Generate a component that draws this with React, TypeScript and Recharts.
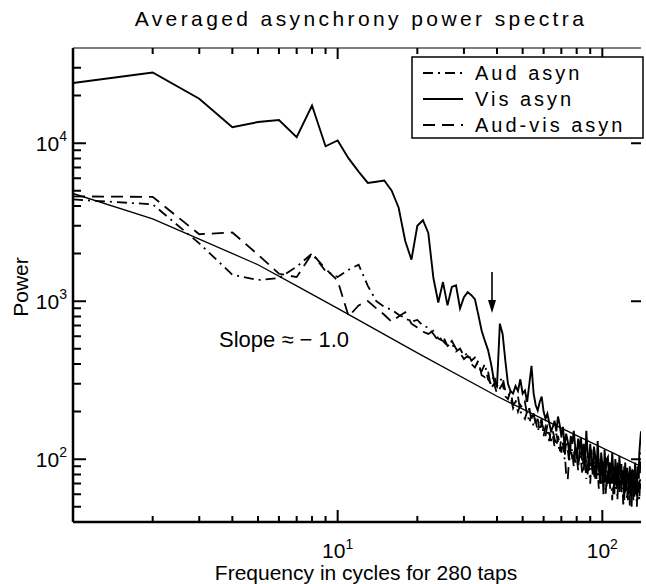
import React from 'react'
import { LineChart, Line, XAxis, YAxis, ReferenceDot } from 'recharts'

// power per frequency (cycles for 280 taps), f = 1 .. 140
const visAsyn = [
  24000, 28000, 19100, 12600, 13600, 14000, 10900, 17300, 9550, 10400,
  8000, 6600, 5600, 5700, 5800, 5000, 3900, 2400, 1830, 3000,
  3250, 2700, 1400, 980, 1320, 940, 1230, 1260, 900, 1060,
  1140, 1090, 1030, 820, 650, 560, 490, 400, 310, 290,
  720, 620, 420, 300, 270, 260, 290, 270, 320, 260,
  272, 230, 300, 389, 261, 220, 203, 230, 249, 200,
  180, 194, 170, 150, 160, 175, 150, 186, 165, 140,
  160, 120, 145, 130, 110, 140, 125, 151, 120, 100,
  135, 115, 138, 105, 125, 95, 151, 110, 90, 125,
  100, 80, 120, 105, 75, 130, 95, 70, 110, 93,
  60, 115, 85, 100, 103, 70, 95, 80, 110, 84,
  60, 100, 75, 90, 65, 105, 80, 93, 70, 85,
  55, 95, 70, 88, 77, 60, 90, 72, 50, 85,
  84, 65, 95, 70, 58, 90, 75, 110, 130, 150,
]

const audAsyn = [
  4400, 4100, 2320, 1470, 1360, 1400, 1650, 2000, 1550, 1420,
  1580, 1700, 1250, 1000, 920, 880, 820, 780, 740, 760,
  700, 680, 620, 560, 600, 520, 540, 480, 500, 450,
  470, 420, 440, 380, 360, 400, 320, 300, 340, 290,
  310, 330, 270, 260, 250, 210, 230, 250, 200, 190,
  180, 200, 170, 190, 160, 175, 150, 165, 180, 140,
  160, 150, 130, 155, 140, 120, 145, 130, 110, 140,
  125, 100, 130, 115, 95, 125, 110, 90, 120, 105,
  85, 115, 100, 80, 110, 95, 75, 105, 90, 70,
  100, 88, 110, 75, 95, 85, 65, 100, 80, 90,
  70, 95, 60, 85, 75, 95, 65, 80, 55, 90,
  75, 65, 85, 55, 80, 70, 90, 60, 75, 50,
  80, 65, 85, 55, 70, 80, 50, 75, 65, 85,
  55, 70, 60, 80, 50, 65, 70, 55, 75, 65,
]

const audVisAsyn = [
  4600, 4570, 2650, 2720, 1970, 1490, 1420, 2000, 1600, 1350,
  800, 940, 1000, 900, 820, 740, 800, 850, 720, 680,
  640, 620, 650, 580, 560, 520, 560, 500, 470, 430,
  450, 400, 380, 420, 340, 330, 360, 280, 300, 260,
  280, 300, 250, 240, 270, 220, 230, 200, 220, 210,
  230, 190, 210, 175, 195, 165, 180, 150, 170, 155,
  140, 165, 145, 130, 150, 135, 120, 140, 125, 110,
  130, 115, 80, 74, 105, 120, 100, 115, 95, 110,
  90, 105, 120, 95, 85, 110, 95, 80, 100, 90,
  115, 85, 75, 100, 90, 105, 80, 95, 70, 85,
  100, 75, 90, 65, 85, 95, 70, 85, 75, 60,
  90, 80, 65, 95, 75, 60, 85, 70, 80, 65,
  90, 60, 75, 85, 55, 80, 70, 60, 85, 65,
  75, 55, 80, 60, 70, 55, 85, 65, 90, 110,
]

// reference line, slope about -1
const fitFreq = [1, 2, 3, 5, 7, 10, 20, 40, 70, 140]
const fitPower = [4800, 3320, 2470, 1700, 1250, 900, 470, 250, 157, 90]

const xTicks = [2, 3, 4, 5, 6, 7, 8, 9, 10, 20, 30, 40, 50, 60, 70, 80, 90, 100]
const yTicks = [
  50, 60, 70, 80, 90, 100, 200, 300, 400, 500, 600, 700, 800, 900,
  1000, 2000, 3000, 4000, 5000, 6000, 7000, 8000, 9000, 10000, 20000, 30000,
]
const majorTicks = [10, 100, 1000, 10000]
const seriesNames = ['Aud asyn', 'Vis asyn', 'Aud-vis asyn']

const X_DOMAIN = [1, 140]
const Y_DOMAIN = [40, 40000]

const data = visAsyn.map((v, i) => ({ f: i + 1, vis: v, aud: audAsyn[i], audVis: audVisAsyn[i] }))
const fitData = fitFreq.map((f, i) => ({ f, fit: fitPower[i] }))

const W = 646
const H = 584
const MARGIN = { top: 47, right: 5, bottom: 0, left: 0 }
const Y_AXIS_W = 73
const X_AXIS_H = 62
const TOP_AXIS_H = 1
// plot box, follows from the margins and axis sizes above
const PLOT = {
  left: MARGIN.left + Y_AXIS_W,
  right: W - MARGIN.right,
  top: MARGIN.top + TOP_AXIS_H,
  bottom: H - MARGIN.bottom - X_AXIS_H,
}

const FONT = '"Liberation Sans", Arial, Helvetica, sans-serif'
const DASH_DOT = '10 5 2 5'
const DASHED = '12 7'

const isMajor = (v: number) => majorTicks.includes(v)
const exponent = (v: number) => Math.round(Math.log10(v))

// log positions for the inward tick marks of the frame
const xPos = (v: number) =>
  PLOT.left + ((PLOT.right - PLOT.left) * Math.log(v / X_DOMAIN[0])) / Math.log(X_DOMAIN[1] / X_DOMAIN[0])
const yPos = (v: number) =>
  PLOT.bottom - ((PLOT.bottom - PLOT.top) * Math.log(v / Y_DOMAIN[0])) / Math.log(Y_DOMAIN[1] / Y_DOMAIN[0])

const BottomLabel = ({ x, y, payload }: any) =>
  isMajor(payload.value) ? (
    <text x={x} y={y + 36} textAnchor="middle" fontSize={21} fontFamily={FONT} fill="#000">
      10<tspan dy={-9} fontSize={14}>{exponent(payload.value)}</tspan>
    </text>
  ) : (
    <g />
  )

const LeftLabel = ({ x, y, payload }: any) =>
  isMajor(payload.value) ? (
    <text x={x - 6} y={y + 8} textAnchor="end" fontSize={21} fontFamily={FONT} fill="#000">
      10<tspan dy={-10} fontSize={14}>{exponent(payload.value)}</tspan>
    </text>
  ) : (
    <g />
  )

const Arrow = ({ cx, cy }: any) => (
  <g>
    <path d={`M${cx},${cy - 41}V${cy - 10}`} stroke="#000" strokeWidth={1.6} fill="none" />
    <path d={`M${cx - 4},${cy - 13}L${cx + 4},${cy - 13}L${cx},${cy}Z`} fill="#000" />
  </g>
)

const legendStyles = [
  { dash: DASH_DOT, width: 1.8 },
  { dash: undefined, width: 1.8 },
  { dash: DASHED, width: 1.8 },
]

export default function App() {
  const tickPaths = [
    ...xTicks.map((v) => `M${xPos(v)},${PLOT.bottom}v${isMajor(v) ? -12 : -6}`),
    ...xTicks.map((v) => `M${xPos(v)},${PLOT.top}v${isMajor(v) ? 11 : 6}`),
    ...yTicks.map((v) => `M${PLOT.left},${yPos(v)}h${isMajor(v) ? 13 : 8}`),
    ...majorTicks.filter((v) => v > Y_DOMAIN[0]).map((v) => `M${PLOT.right},${yPos(v)}h-10`),
  ].join('')

  return (
    <div style={{ position: 'absolute', left: 0, top: 0, width: W, height: H, background: '#fff' }}>
      <LineChart width={W} height={H} data={data} margin={MARGIN}>
        <XAxis
          dataKey="f"
          type="number"
          scale="log"
          domain={X_DOMAIN}
          allowDataOverflow
          ticks={xTicks}
          interval={0}
          tickSize={0}
          tickMargin={0}
          tickLine={false}
          height={X_AXIS_H}
          axisLine={{ stroke: '#000', strokeWidth: 2.5 }}
          tick={BottomLabel}
        />
        <XAxis
          xAxisId="top"
          orientation="top"
          dataKey="f"
          type="number"
          scale="log"
          domain={X_DOMAIN}
          allowDataOverflow
          tick={false}
          tickLine={false}
          height={TOP_AXIS_H}
          axisLine={{ stroke: '#000', strokeWidth: 1.2 }}
        />
        <YAxis
          type="number"
          scale="log"
          domain={Y_DOMAIN}
          allowDataOverflow
          ticks={yTicks}
          interval={0}
          tickSize={0}
          tickMargin={0}
          tickLine={false}
          width={Y_AXIS_W}
          axisLine={{ stroke: '#000', strokeWidth: 2.5 }}
          tick={LeftLabel}
        />
        <Line data={fitData} dataKey="fit" type="linear" stroke="#000" strokeWidth={1.3} dot={false} isAnimationActive={false} />
        <Line dataKey="aud" name={seriesNames[0]} type="linear" stroke="#000" strokeWidth={1.8} strokeDasharray={DASH_DOT} dot={false} isAnimationActive={false} />
        <Line dataKey="audVis" name={seriesNames[2]} type="linear" stroke="#000" strokeWidth={1.8} strokeDasharray={DASHED} dot={false} isAnimationActive={false} />
        <Line dataKey="vis" name={seriesNames[1]} type="linear" stroke="#000" strokeWidth={1.9} dot={false} isAnimationActive={false} />
        <ReferenceDot x={38.3} y={841} shape={Arrow} />
      </LineChart>
      <svg
        width={W}
        height={H}
        style={{ position: 'absolute', left: 0, top: 0, pointerEvents: 'none' }}
        fontFamily={FONT}
      >
        <path d={tickPaths} stroke="#000" strokeWidth={2} fill="none" />
        <text x={361} y={26} textAnchor="middle" fontSize={21} letterSpacing={3.4}>
          Averaged asynchrony power spectra
        </text>
        <text transform="translate(28,287) rotate(-90)" textAnchor="middle" fontSize={21}>
          Power
        </text>
        <text x={366} y={580} textAnchor="middle" fontSize={21}>
          Frequency in cycles for 280 taps
        </text>
        <text x={219} y={347} fontSize={22}>
          Slope ≈ − 1.0
        </text>
        <rect x={412} y={57} width={231} height={81} fill="#fff" stroke="#000" strokeWidth={1.5} />
        {seriesNames.map((name, i) => (
          <g key={name}>
            <path
              d={`M423,${73 + i * 26}H463`}
              stroke="#000"
              strokeWidth={legendStyles[i].width}
              strokeDasharray={legendStyles[i].dash}
              fill="none"
            />
            <text x={475} y={80 + i * 26} fontSize={20} letterSpacing={3}>
              {name}
            </text>
          </g>
        ))}
      </svg>
    </div>
  )
}
